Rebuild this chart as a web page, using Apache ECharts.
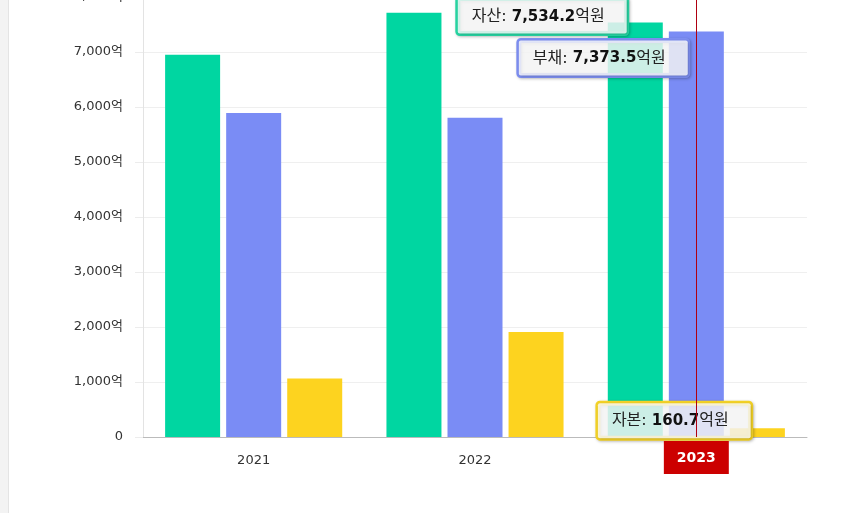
<!DOCTYPE html>
<html>
<head>
<meta charset="utf-8">
<script src="https://cdn.jsdelivr.net/npm/echarts@6/dist/echarts.min.js"></script>
<style>html,body{margin:0;padding:0;background:#fff}#c{width:849px;height:513px}</style>
</head>
<body>
<div id="c"></div>
<script>
const categories = ['2021', '2022', '2023'];
const seriesNames = ['자산', '부채', '자본'];
const assets = [6952, 7712, 7534.2];
const debts = [5890, 5803, 7373.5];
const capitals = [1062, 1909, 160.7];
const yTicks = [0, 1000, 2000, 3000, 4000, 5000, 6000, 7000, 8000];
const highlighted = '2023';

const FONT = '"DejaVu Sans", "Noto Sans CJK KR", sans-serif';
const colors = ['#00d6a1', '#7a8cf5', '#fdd31f'];
const borders = ['#27d6a3', '#7d8ef0', '#f3d226'];

function fmt(v) {
  return v.toLocaleString('en-US', {minimumFractionDigits: 1, maximumFractionDigits: 1});
}
function calloutLabel(idx, name, pos) {
  return {
    show: true,
    position: pos,
    align: 'left',
    verticalAlign: 'top',
    backgroundColor: 'rgba(255,255,255,0.8)',
    borderColor: borders[idx],
    borderWidth: 2.5,
    borderRadius: 2,
    padding: [8, 22, 7, 14],
    shadowColor: 'rgba(0,0,0,0.25)',
    shadowBlur: 3,
    shadowOffsetX: 1,
    shadowOffsetY: 1,
    formatter: function (p) { return '{n|' + name + ': }{v|' + fmt(p.value) + '}{n|억원}'; },
    rich: {
      n: {fontFamily: FONT, fontSize: 16, color: '#222', lineHeight: 20},
      v: {fontFamily: FONT, fontSize: 15, fontWeight: 'bold', color: '#111', lineHeight: 20}
    }
  };
}
function buildData(arr, idx, pos) {
  return arr.map((v, i) => categories[i] === highlighted
    ? {value: v, label: calloutLabel(idx, seriesNames[idx], pos)}
    : v);
}

const chart = echarts.init(document.getElementById('c'));
chart.setOption({
  animation: false,
  backgroundColor: '#fff',
  textStyle: {fontFamily: FONT},
  graphic: [
    {type: 'rect', left: 0, top: 0, shape: {width: 8, height: 513}, style: {fill: '#f3f3f3'}, silent: true},
    {type: 'rect', left: 8, top: 0, shape: {width: 1, height: 513}, style: {fill: '#e4e4e4'}, silent: true}
  ],
  grid: {left: 143, right: 42, top: -3, bottom: 76, containLabel: false, outerBoundsMode: 'none'},
  xAxis: {
    type: 'category',
    data: categories,
    axisLine: {show: true, lineStyle: {color: '#bbb'}},
    axisTick: {show: false},
    axisLabel: {fontFamily: FONT, fontSize: 13, color: '#333', margin: 17},
    axisPointer: {
      show: true,
      type: 'line',
      value: highlighted,
      status: 'show',
      snap: true,
      triggerTooltip: false,
      lineStyle: {color: '#b00010', width: 1, type: 'solid'},
      label: {
        show: true,
        backgroundColor: '#cc0000',
        color: '#fff',
        fontFamily: FONT,
        fontSize: 14,
        fontWeight: 'bold',
        padding: [10, 13, 9, 13],
        borderRadius: 0,
        margin: 4
      }
    }
  },
  yAxis: {
    type: 'value',
    min: yTicks[0],
    max: yTicks[yTicks.length - 1],
    interval: 1000,
    axisLine: {show: true, lineStyle: {color: '#e3e3e3'}},
    axisTick: {show: true, length: 8, lineStyle: {color: '#ececec'}},
    splitLine: {show: true, lineStyle: {color: '#efefef'}},
    axisLabel: {
      fontFamily: FONT, fontSize: 13, color: '#333', margin: 20,
      formatter: v => v === 0 ? '0' : v.toLocaleString('en-US') + '억'
    }
  },
  series: [
    {name: seriesNames[0], type: 'bar', barWidth: 55, barGap: '11%', itemStyle: {color: colors[0]},
     data: buildData(assets, 0, [-150, -24])},
    {name: seriesNames[1], type: 'bar', barWidth: 55, barGap: '11%', itemStyle: {color: colors[1]},
     data: buildData(debts, 1, [-150, 9])},
    {name: seriesNames[2], type: 'bar', barWidth: 55, barGap: '11%', itemStyle: {color: colors[2]},
     data: buildData(capitals, 2, [-132, -25])}
  ]
});
</script>
</body>
</html>
